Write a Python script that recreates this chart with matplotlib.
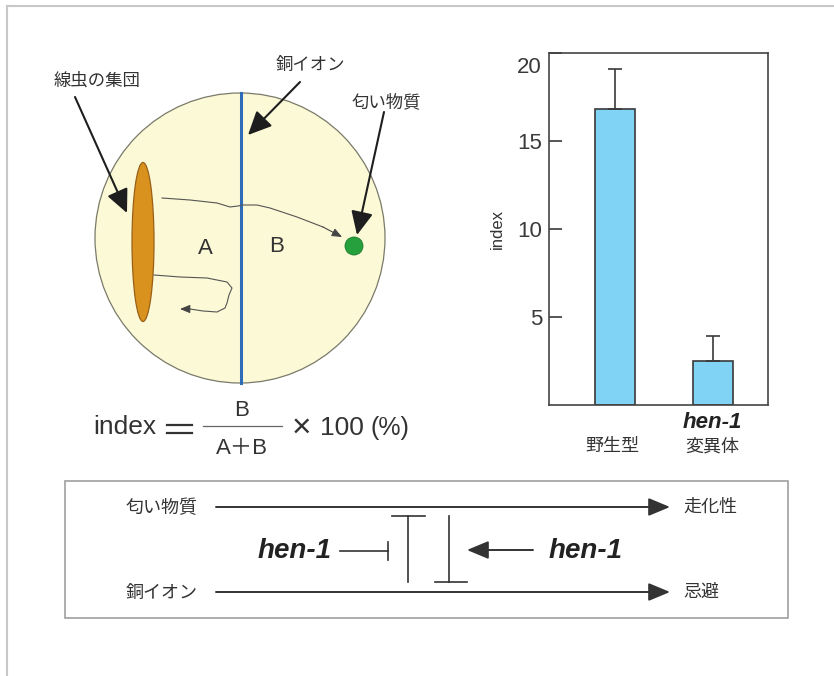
import matplotlib.pyplot as plt
from matplotlib.patches import Circle, Ellipse, Rectangle
import matplotlib.transforms as mtransforms

plt.rcParams['font.family'] = ['Liberation Sans', 'Noto Sans CJK JP']

# 棒グラフのデータ
groups = ['野生型', '変異体']
index_mean = [16.8, 2.52]
index_err = [2.3, 1.4]
yticks = [5, 10, 15, 20]

TXT = '#333333'

# 図の部品の位置 (ピクセル座標, 上が 0)
plate_center = (240, 238)
plate_radius = 145
worms_center = (143, 242)
odor_center = (354, 246)
path_odor = [(162, 198), (190, 200), (217, 203), (230, 207), (238, 206), (243, 205),
             (257, 205), (270, 208), (297, 217), (323, 227), (342, 237)]
path_back = [(154, 275), (180, 277), (207, 278), (227, 282), (232, 288), (229, 295),
             (227, 303), (225, 308), (217, 312), (203, 311), (190, 309), (180, 309)]
pointers = [((75, 97), (127, 213)), ((300, 82), (248, 135)), ((384, 112), (357, 235))]

fig = plt.figure(figsize=(8.34, 6.76), dpi=100)
ax0 = fig.add_axes([0, 0, 1, 1])
ax0.set_xlim(0, 834)
ax0.set_ylim(676, 0)
ax0.axis('off')

# 外枠 (上と左だけ見える)
ax0.plot([7, 834], [6, 6], color='#c8c8c8', lw=1.5)
ax0.plot([7, 7], [6, 676], color='#c8c8c8', lw=1.5)

# シャーレ
ax0.add_patch(Circle(plate_center, plate_radius, facecolor='#fcf9d6', edgecolor='#7a7a6a', lw=0.9))
ax0.plot([241, 241], [93, 383], color='#2e6cb8', lw=2.2)
ax0.add_patch(Ellipse(worms_center, 22, 159, facecolor='#d9921e', edgecolor='#9a6018', lw=0.9))
ax0.add_patch(Circle(odor_center, 9, facecolor='#25a03c', edgecolor='#1c7a2c', lw=0.6))

# 線虫の動き
for path in (path_odor, path_back):
    xs = [p[0] for p in path]
    ys = [p[1] for p in path]
    ax0.plot(xs[:-1], ys[:-1], color='#555555', lw=0.8)
    ax0.annotate('', xy=path[-1], xytext=path[-2],
                 arrowprops=dict(arrowstyle='-|>,head_length=0.6,head_width=0.25',
                                 mutation_scale=10, lw=0.8, color='#444444',
                                 shrinkA=0, shrinkB=0))

for start, tip in pointers:
    ax0.annotate('', xy=tip, xytext=start,
                 arrowprops=dict(arrowstyle='-|>,head_length=0.6,head_width=0.28',
                                 mutation_scale=24, lw=1.5, color='#1e1e1e',
                                 shrinkA=0, shrinkB=0))

ax0.text(97, 80, '線虫の集団', fontsize=12.5, color=TXT, ha='center', va='center')
ax0.text(310, 65, '銅イオン', fontsize=12.5, color=TXT, ha='center', va='center')
ax0.text(386, 102, '匂い物質', fontsize=12.5, color=TXT, ha='center', va='center')
ax0.text(205, 248, 'A', fontsize=16, color=TXT, ha='center', va='center')
ax0.text(277, 247, 'B', fontsize=16, color=TXT, ha='center', va='center')

# index の式
ax0.text(125, 427, 'index', fontsize=19, color=TXT, ha='center', va='center')
ax0.plot([167, 192], [425, 425], color=TXT, lw=1.6)
ax0.plot([167, 192], [433, 433], color=TXT, lw=1.6)
ax0.plot([203, 282], [426, 426], color='#666666', lw=0.9)
ax0.text(242, 411, 'B', fontsize=16, color=TXT, ha='center', va='center')
ax0.text(242, 448, 'A＋B', fontsize=16, color=TXT, ha='center', va='center')
ax0.text(301, 428, '×', fontsize=24, color=TXT, ha='center', va='center')
ax0.text(342, 428, '100', fontsize=19, color=TXT, ha='center', va='center')
ax0.text(390, 428, '(%)', fontsize=18, color=TXT, ha='center', va='center')

# 下の模式図
ax0.add_patch(Rectangle((65, 481), 723, 137, facecolor='none', edgecolor='#a0a0a0', lw=1.2))
for y, left, right in [(507, '匂い物質', '走化性'), (592, '銅イオン', '忌避')]:
    ax0.annotate('', xy=(670, y), xytext=(216, y),
                 arrowprops=dict(arrowstyle='-|>,head_length=0.6,head_width=0.25',
                                 mutation_scale=22, lw=1.4, color='#333333',
                                 shrinkA=0, shrinkB=0))
    ax0.text(198, y + 1, left, fontsize=13, color=TXT, ha='right', va='center')
    ax0.text(683, y, right, fontsize=13, color=TXT, ha='left', va='center')

ax0.text(295, 551, 'hen-1', fontsize=20, fontweight='bold', style='italic',
         color='#222222', ha='center', va='center')
ax0.text(586, 551, 'hen-1', fontsize=20, fontweight='bold', style='italic',
         color='#222222', ha='center', va='center')
ax0.plot([340, 388], [551, 551], color='#333333', lw=1.2)
ax0.plot([388, 388], [542, 560], color='#333333', lw=1.2)
ax0.plot([408, 408], [516, 582], color='#333333', lw=1.2)
ax0.plot([392, 425], [516, 516], color='#333333', lw=1.2)
ax0.plot([449, 449], [516, 582], color='#333333', lw=1.2)
ax0.plot([435, 467], [582, 582], color='#333333', lw=1.2)
ax0.annotate('', xy=(467, 550), xytext=(533, 550),
             arrowprops=dict(arrowstyle='-|>,head_length=0.6,head_width=0.25',
                             mutation_scale=22, lw=1.4, color='#333333',
                             shrinkA=0, shrinkB=0))

# 棒グラフ
ax = fig.add_axes([549 / 834, 1 - 405 / 676, 219 / 834, 352 / 676])
x = [0, 1]
ax.bar(x, index_mean, width=0.41, color='#80d3f5', edgecolor='#3a3a3a', lw=1.2,
       yerr=[[0, 0], index_err], capsize=5,
       error_kw=dict(ecolor='#3a3a3a', elinewidth=1.2, capthick=1.2))
ax.set_xlim(-0.673, 1.561)
ax.set_ylim(0, 20)
ax.set_xticks([])
ax.set_yticks(yticks)
ax.tick_params(axis='y', direction='in', length=9, width=1.2, pad=5,
               labelsize=16, colors='#3a3a3a')
for s in ax.spines.values():
    s.set_color('#444444')
    s.set_linewidth(1.2)
ax.set_ylabel('index', fontsize=12, color=TXT, labelpad=9)

# 20 のラベルは少し下に
top_label = ax.get_yticklabels()[-1]
top_label.set_transform(top_label.get_transform() +
                        mtransforms.ScaledTranslation(0, -12 / 100, fig.dpi_scale_trans))

ax0.text(612, 447, groups[0], fontsize=13, color=TXT, ha='center', va='center')
ax0.text(712, 423, 'hen-1', fontsize=16, fontweight='bold', style='italic',
         color='#222222', ha='center', va='center')
ax0.text(712, 447, groups[1], fontsize=13, color=TXT, ha='center', va='center')

fig.savefig('out.png', dpi=100)
